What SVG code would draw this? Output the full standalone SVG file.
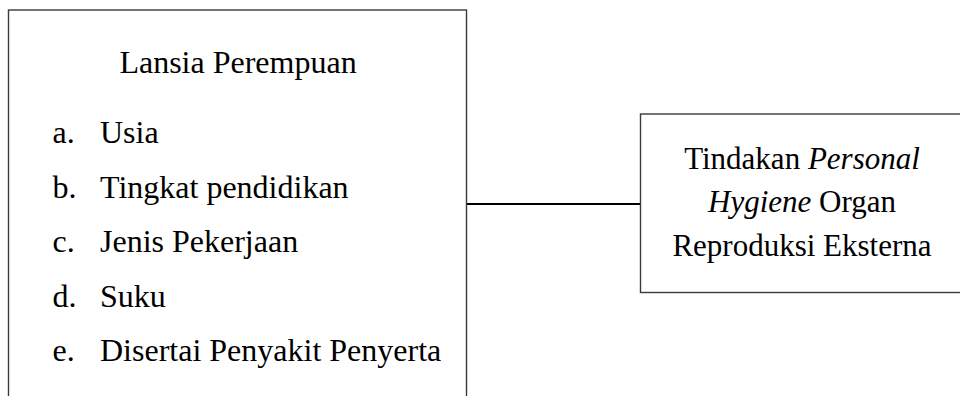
<svg xmlns="http://www.w3.org/2000/svg" width="960" height="396" viewBox="0 0 960 396">
<style>
.box{fill:#fff;stroke:#3a3a3a;stroke-width:1.4}
.t{font-family:"Liberation Serif","Times New Roman",serif;font-size:32px;fill:#000}
.r{font-size:31px}
.c{stroke:#000;stroke-width:2;fill:none}
</style>
<rect width="960" height="396" fill="#fff"/>
<g id="connectors">
<line class="c" x1="466.5" y1="204" x2="640.5" y2="204"/>
</g>
<g id="lansia">
<rect class="box" x="8.5" y="10" width="458" height="400"/>
<text class="t" x="238" y="73" text-anchor="middle">Lansia Perempuan</text>
<text class="t" x="52.5" y="143">a.</text><text class="t" x="100" y="143">Usia</text>
<text class="t" x="52.5" y="197.5">b.</text><text class="t" x="100" y="197.5">Tingkat pendidikan</text>
<text class="t" x="52.5" y="252">c.</text><text class="t" x="100" y="252">Jenis Pekerjaan</text>
<text class="t" x="52.5" y="306.5">d.</text><text class="t" x="100" y="306.5">Suku</text>
<text class="t" x="52.5" y="361">e.</text><text class="t" x="100" y="361">Disertai Penyakit Penyerta</text>
</g>
<g id="tindakan">
<rect class="box" x="640.5" y="114" width="330" height="178.5"/>
<text class="t r" x="802" y="168.5" text-anchor="middle">Tindakan <tspan font-style="italic">Personal</tspan></text>
<text class="t r" x="802" y="211.5" text-anchor="middle"><tspan font-style="italic">Hygiene</tspan> Organ</text>
<text class="t r" x="802" y="255.5" text-anchor="middle">Reproduksi Eksterna</text>
</g>
</svg>
